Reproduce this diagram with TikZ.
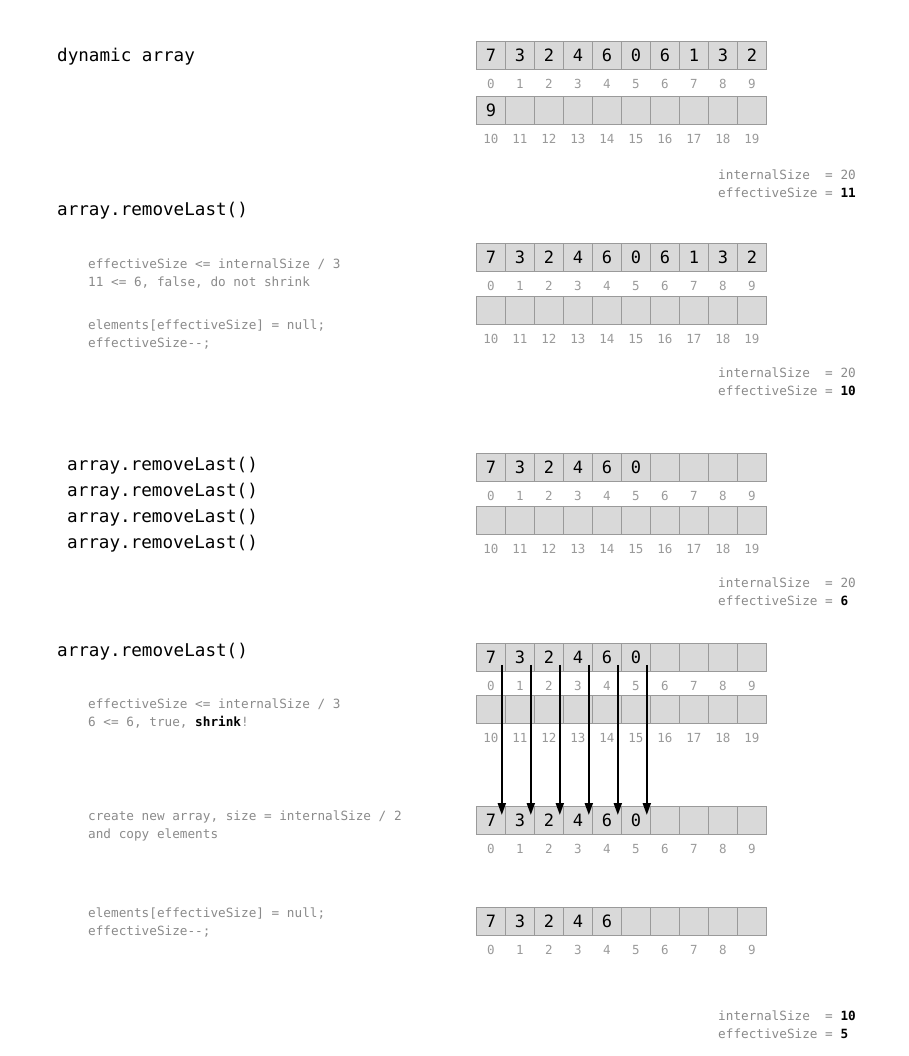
\documentclass[tikz,border=0pt]{standalone}
\usepackage{fontspec}
\setmonofont{DejaVu Sans Mono}
\usetikzlibrary{arrows.meta}
\definecolor{cellfill}{HTML}{D9D9D9}
\definecolor{cellline}{HTML}{9A9A9A}
\definecolor{idxcol}{HTML}{9A9A9A}
\definecolor{codecol}{HTML}{8A8A8A}
\tikzset{
  cell/.style={draw=cellline, fill=cellfill, line width=0.8pt, minimum width=29pt,
    minimum height=28pt, inner sep=0pt, anchor=north west,
    font=\ttfamily\fontsize{17}{20}\selectfont},
  idxlbl/.style={text=idxcol, inner sep=0pt, anchor=center,
    font=\ttfamily\fontsize{12.5}{15}\selectfont},
  head/.style={anchor=base west, inner sep=0pt,
    font=\ttfamily\fontsize{17.6}{20}\selectfont},
  codetxt/.style={anchor=base west, inner sep=0pt, text=codecol,
    font=\ttfamily\fontsize{12.7}{15}\selectfont},
  copyarrow/.style={line width=2pt, -{Triangle[length=12pt,width=8pt]}},
}
\newcommand\arrayrow[4]{%
  \foreach \v [count=\k from 0] in {#4} {%
    \node[cell] (#1c\k) at ({476+29*\k}, #2) {\v};
    \pgfmathtruncatemacro\ix{#3+\k}
    \node[idxlbl] (#1i\k) at ([yshift=-14pt]#1c\k.south) {\ix};
  }%
}
\newcommand\bb[1]{{\color{black}\bfseries #1}}
\begin{document}
\begin{tikzpicture}[x=1pt, y=-1pt]
\useasboundingbox (0,0) rectangle (908,1056);

% block 1
\node[head] (t1) at (57,61.5) {dynamic array};
\arrayrow{a}{41}{0}{7,3,2,4,6,0,6,1,3,2}
\arrayrow{b}{96}{10}{9,,,,,,,,,}
\node[codetxt] (s1a) at (718,180) {internalSize\ \ = 20};
\node[codetxt] (s1b) at (718,198) {effectiveSize = \bb{11}};

% block 2
\node[head] (t2) at (57,216) {array.removeLast()};
\node[codetxt] (c2a) at (88,269) {effectiveSize <= internalSize / 3};
\node[codetxt] (c2b) at (88,287) {11 <= 6, false, do not shrink};
\node[codetxt] (c2c) at (88,329) {elements[effectiveSize] = null;};
\node[codetxt] (c2d) at (88,347) {effectiveSize-{}-;};
\arrayrow{c}{243}{0}{7,3,2,4,6,0,6,1,3,2}
\arrayrow{d}{296}{10}{,,,,,,,,,}
\node[codetxt] (s2a) at (718,377) {internalSize\ \ = 20};
\node[codetxt] (s2b) at (718,395) {effectiveSize = \bb{10}};

% block 3
\node[head] (t3a) at (67,470) {array.removeLast()};
\node[head] (t3b) at (67,496) {array.removeLast()};
\node[head] (t3c) at (67,522) {array.removeLast()};
\node[head] (t3d) at (67,548) {array.removeLast()};
\arrayrow{e}{453}{0}{7,3,2,4,6,0,,,,}
\arrayrow{f}{506}{10}{,,,,,,,,,}
\node[codetxt] (s3a) at (718,587) {internalSize\ \ = 20};
\node[codetxt] (s3b) at (718,605) {effectiveSize = \bb{6}};

% block 4
\node[head] (t4) at (57,656.5) {array.removeLast()};
\node[codetxt] (c4a) at (88,708) {effectiveSize <= internalSize / 3};
\node[codetxt] (c4b) at (88,726) {6 <= 6, true, \bb{shrink}!};
\arrayrow{g}{643}{0}{7,3,2,4,6,0,,,,}
\arrayrow{h}{695}{10}{,,,,,,,,,}

% block 5 (new array)
\node[codetxt] (c5a) at (88,820) {create new array, size = internalSize / 2};
\node[codetxt] (c5b) at (88,838) {and copy elements};
\arrayrow{k}{806}{0}{7,3,2,4,6,0,,,,}
\foreach \k in {0,...,5}{
  \draw[copyarrow] ([xshift=-4pt,yshift=-7.5pt]gc\k.east) -- ([xshift=-4pt,yshift=-9pt]kc\k.north east);
}

% block 6
\node[codetxt] (c6a) at (88,917) {elements[effectiveSize] = null;};
\node[codetxt] (c6b) at (88,935) {effectiveSize-{}-;};
\arrayrow{m}{907}{0}{7,3,2,4,6,,,,,}
\node[codetxt] (s6a) at (718,1020) {internalSize\ \ = \bb{10}};
\node[codetxt] (s6b) at (718,1038) {effectiveSize = \bb{5}};
\end{tikzpicture}
\end{document}
